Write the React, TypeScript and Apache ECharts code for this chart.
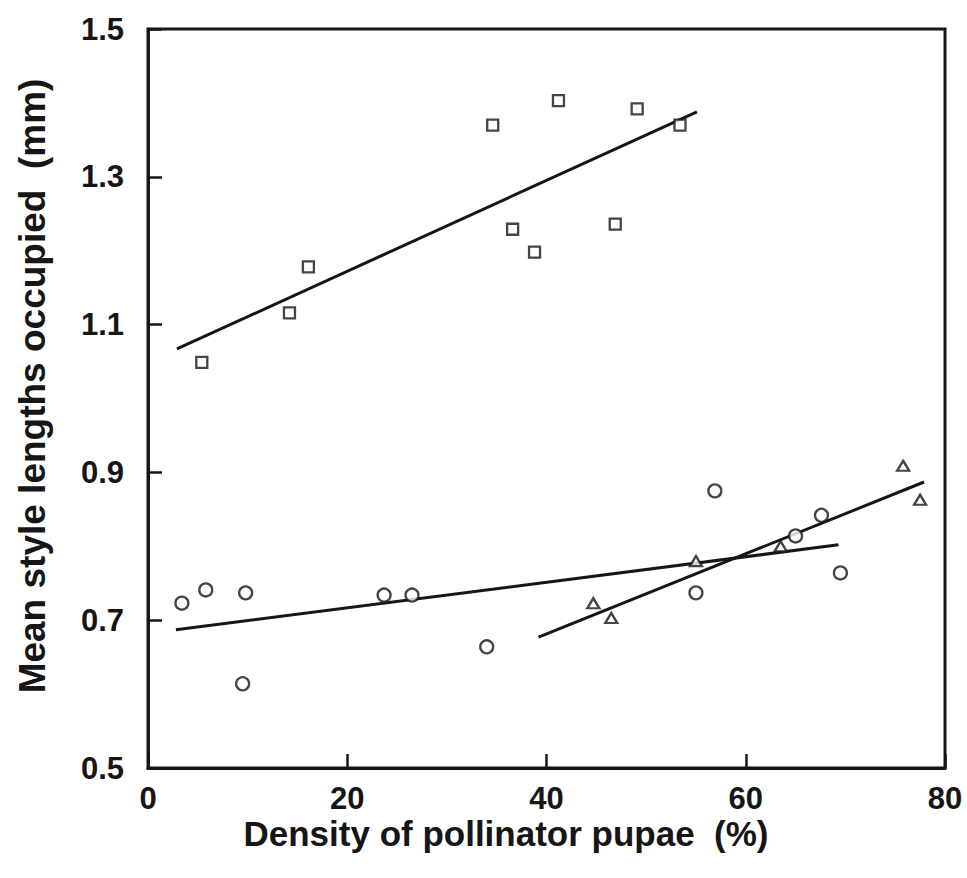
import React, { useEffect, useRef } from "react";
import * as echarts from "echarts";

const squareX = [5.4, 14.2, 16.1, 34.6, 36.6, 38.8, 41.2, 46.9, 49.1, 53.4];
const squareY = [1.049, 1.116, 1.178, 1.37, 1.229, 1.198, 1.403, 1.236, 1.392, 1.37];
const circleX = [3.4, 5.8, 9.5, 9.8, 23.7, 26.5, 34.0, 55.0, 56.9, 65.0, 67.6, 69.5];
const circleY = [0.723, 0.741, 0.614, 0.737, 0.734, 0.734, 0.664, 0.737, 0.875, 0.814, 0.842, 0.764];
const triangleX = [44.7, 46.5, 55.0, 63.5, 75.8, 77.5];
const triangleY = [0.723, 0.703, 0.78, 0.8, 0.909, 0.863];

const squareLineX = [2.9, 55.1];
const squareLineY = [1.067, 1.388];
const circleLineX = [2.8, 69.3];
const circleLineY = [0.687, 0.802];
const triangleLineX = [39.2, 77.9];
const triangleLineY = [0.677, 0.887];

const xTitle = "Density of pollinator pupae  (%)";
const yTitle = "Mean style lengths occupied  (mm)";

const INK = "#161616";
const FONT = "'Liberation Sans', Arial, Helvetica, sans-serif";

const zip = (xs: number[], ys: number[]) => xs.map((x, i) => [x, ys[i]]);

export default function App() {
  const ref = useRef<HTMLDivElement>(null);
  useEffect(() => {
    document.body.style.margin = "0";
    const chart = echarts.init(ref.current!, null, { renderer: "svg" });
    const markerStyle = { color: "#ffffff", borderColor: INK, borderWidth: 2.3 };
    const lineSeries = (xs: number[], ys: number[]) => ({
      type: "line",
      data: zip(xs, ys),
      symbol: "none",
      lineStyle: { color: INK, width: 3 },
      z: 3,
    });
    chart.setOption({
      animation: false,
      backgroundColor: "#ffffff",
      grid: {
        left: 148,
        right: 22,
        top: 29,
        bottom: 110,
        show: true,
        borderColor: INK,
        borderWidth: 3,
      },
      xAxis: {
        type: "value",
        min: 0,
        max: 80,
        interval: 20,
        axisLine: { show: true, lineStyle: { color: INK, width: 3 } },
        axisTick: { show: true, inside: true, length: 14, lineStyle: { color: INK, width: 2.5 } },
        splitLine: { show: false },
        axisLabel: {
          color: INK,
          fontSize: 31,
          fontWeight: "bold",
          fontFamily: FONT,
          margin: 15,
        },
      },
      yAxis: {
        type: "value",
        min: 0.5,
        max: 1.5,
        interval: 0.2,
        axisLine: { show: true, lineStyle: { color: INK, width: 3 } },
        axisTick: { show: true, inside: true, length: 14, lineStyle: { color: INK, width: 2.5 } },
        splitLine: { show: false },
        axisLabel: {
          color: INK,
          fontSize: 31,
          fontWeight: "bold",
          fontFamily: FONT,
          margin: 24,
          formatter: (v: number) => v.toFixed(1),
        },
      },
      series: [
        {
          type: "scatter",
          data: zip(squareX, squareY),
          symbol: "rect",
          symbolSize: 11,
          itemStyle: markerStyle,
          z: 4,
        },
        {
          type: "scatter",
          data: zip(circleX, circleY),
          symbol: "circle",
          symbolSize: 13,
          itemStyle: markerStyle,
          z: 4,
        },
        {
          type: "scatter",
          data: zip(triangleX, triangleY),
          symbol: "triangle",
          symbolSize: [12, 10],
          itemStyle: markerStyle,
          z: 4,
        },
        lineSeries(squareLineX, squareLineY),
        lineSeries(circleLineX, circleLineY),
        lineSeries(triangleLineX, triangleLineY),
      ],
      graphic: [
        {
          type: "text",
          x: 506,
          y: 833,
          style: {
            text: xTitle,
            fill: INK,
            font: `bold 35px ${FONT}`,
            textAlign: "center",
            textVerticalAlign: "middle",
          },
        },
        {
          type: "text",
          x: 32,
          y: 386,
          rotation: Math.PI / 2,
          style: {
            text: yTitle,
            fill: INK,
            font: `bold 37px ${FONT}`,
            textAlign: "center",
            textVerticalAlign: "middle",
          },
        },
      ],
    });
    return () => chart.dispose();
  }, []);
  return <div ref={ref} style={{ width: 967, height: 878 }} />;
}
